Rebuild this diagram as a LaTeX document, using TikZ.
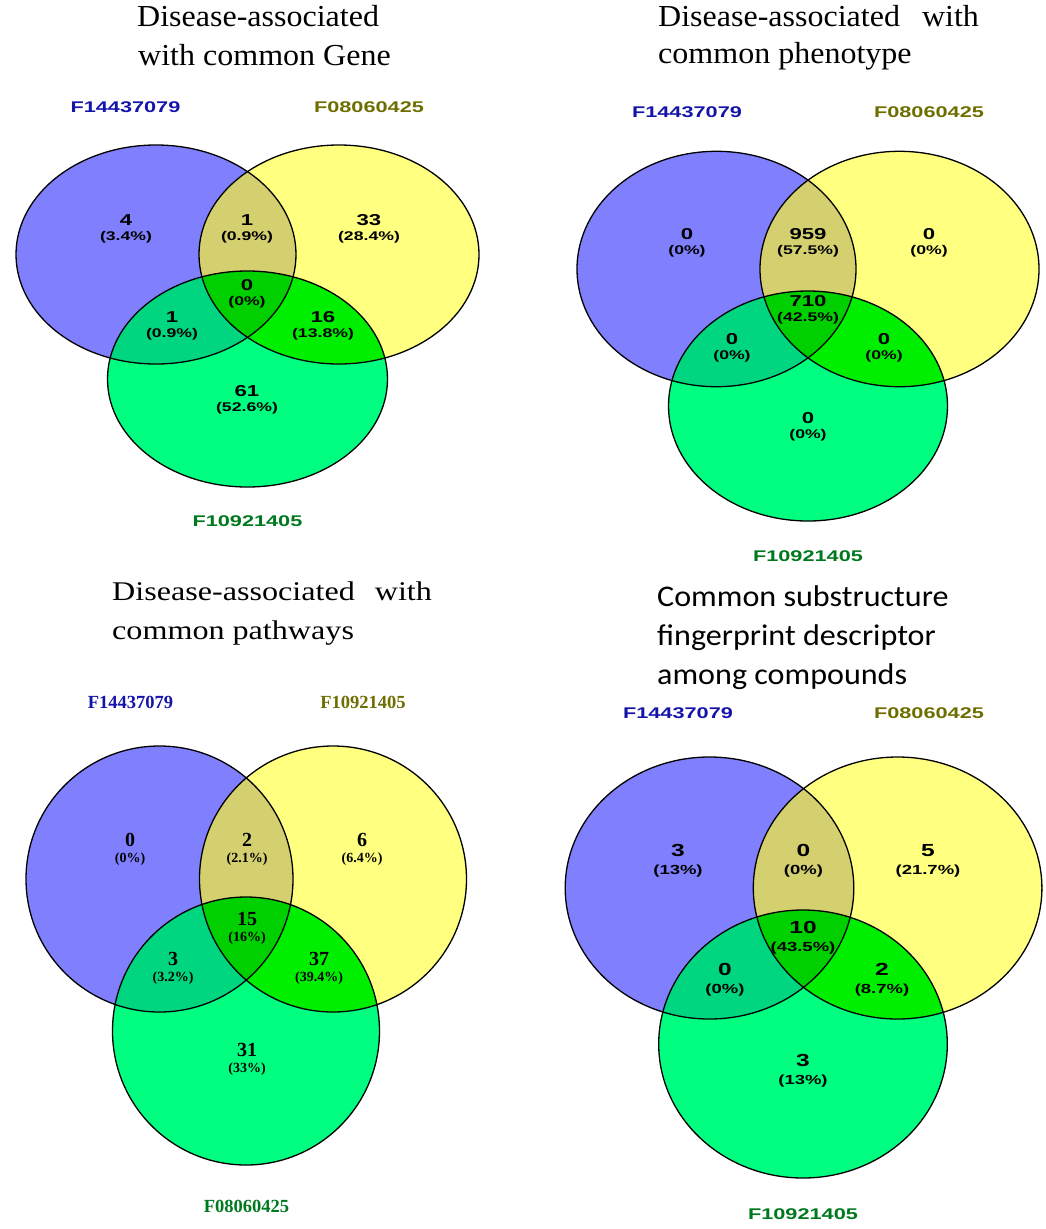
\documentclass[tikz,border=0pt]{standalone}
\usepackage{fontspec}
\setmainfont{Liberation Serif}
\newfontfamily\titlefont{Liberation Serif}[FakeStretch=1.05]
\newfontfamily\widetitle{Liberation Serif}[FakeStretch=1.19]
\newfontfamily\notefont{Carlito}[FakeStretch=1.07]
\newfontfamily\vennsans{Liberation Sans}[FakeStretch=1.4]
\newfontfamily\vennserif{Liberation Serif}
\definecolor{setblue}{RGB}{128,128,255}
\definecolor{setyellow}{RGB}{255,255,128}
\definecolor{setgreen}{RGB}{0,255,128}
\definecolor{blueyellow}{RGB}{212,208,112}
\definecolor{bluegreen}{RGB}{0,214,128}
\definecolor{yellowgreen}{RGB}{0,238,0}
\definecolor{allthree}{RGB}{0,208,0}
\definecolor{nameblue}{RGB}{20,20,170}
\definecolor{nameolive}{RGB}{110,110,0}
\definecolor{namegreen}{RGB}{0,120,30}
\begin{document}
\begin{tikzpicture}[x=1pt,y=-1pt,
    ttl/.style={anchor=base west,inner sep=0pt,font={\titlefont\fontsize{30.5}{36}\selectfont}},
    ttlwide/.style={ttl,font={\widetitle\fontsize{27}{32}\selectfont}},
    ttlsans/.style={ttl,font={\notefont\fontsize{30}{36}\selectfont}},
    setname/.style={inner sep=0pt,font={\vennsans\bfseries\fontsize{15.5}{18}\selectfont}},
    setserif/.style={inner sep=0pt,font={\vennserif\bfseries\fontsize{18.5}{20}\selectfont}},
    cnt/.style={align=center,inner sep=0pt,font={\vennsans\bfseries\fontsize{12.6}{15}\selectfont}},
    cntbig/.style={cnt,font={\vennsans\bfseries\fontsize{13.2}{18}\selectfont}},
    cntserif/.style={cnt,font={\vennserif\bfseries\fontsize{14}{16}\selectfont}}]
    \useasboundingbox (0,0) rectangle (1045,1229);
    % the four three-set diagrams
    \foreach \bx/\by/\yx/\gx/\gy/\rx/\ry/\gry in {156/254.5/339/247.5/379/140/109.5/108,
        716.5/269/899.5/808/406/139.5/117.7/115,
        159.5/879/333/246/1031/133.5/133/134,
        709.5/888/897.6/803/1044/144.3/131/134}
    {
        \fill[setblue] (\bx,\by) ellipse [x radius=\rx,y radius=\ry];
        \fill[setyellow] (\yx,\by) ellipse [x radius=\rx,y radius=\ry];
        \fill[setgreen] (\gx,\gy) ellipse [x radius=\rx,y radius=\gry];
        \begin{scope}
            \clip (\bx,\by) ellipse [x radius=\rx,y radius=\ry];
            \fill[blueyellow] (\yx,\by) ellipse [x radius=\rx,y radius=\ry];
            \fill[bluegreen] (\gx,\gy) ellipse [x radius=\rx,y radius=\gry];
        \end{scope}
        \begin{scope}
            \clip (\yx,\by) ellipse [x radius=\rx,y radius=\ry];
            \fill[yellowgreen] (\gx,\gy) ellipse [x radius=\rx,y radius=\gry];
            \clip (\bx,\by) ellipse [x radius=\rx,y radius=\ry];
            \fill[allthree] (\gx,\gy) ellipse [x radius=\rx,y radius=\gry];
        \end{scope}
        \draw[line width=1.3pt] (\bx,\by) ellipse [x radius=\rx,y radius=\ry];
        \draw[line width=1.3pt] (\yx,\by) ellipse [x radius=\rx,y radius=\ry];
        \draw[line width=1.3pt] (\gx,\gy) ellipse [x radius=\rx,y radius=\gry];
    }
    % top left
    \node[ttl] (t1a) at (137,26.8) {Disease-associated};
    \node[ttl] (t1b) at (138,65) {with common Gene};
    \node[setname,nameblue] (s1a) at (125.5,107) {F14437079};
    \node[setname,nameolive] (s1b) at (369,107) {F08060425};
    \node[setname,namegreen] (s1c) at (247.5,521) {F10921405};
    \foreach \x/\y/\n/\p [count=\i] in {126/228.5/4/3.4,247/228.5/1/0.9,369/228.5/33/28.4,
        247/293.5/0/0,172/326/1/0.9,323/326/16/13.8,247/400/61/52.6}
        \node[cnt] (a\i) at (\x,\y) {{\fontsize{15.8}{15}\selectfont\n}\\(\p\%)};
    % top right
    \node[ttl] (t2a) at (658,26.8) {Disease-associated\hspace{22pt}with};
    \node[ttl] (t2b) at (658,63) {common phenotype};
    \node[setname,nameblue] (s2a) at (687,112) {F14437079};
    \node[setname,nameolive] (s2b) at (929,112) {F08060425};
    \node[setname,namegreen] (s2c) at (808,556) {F10921405};
    \foreach \x/\y/\n/\p [count=\i] in {687/242.5/0/0,808/242.5/959/57.5,929/242.5/0/0,
        808/310/710/42.5,732/347.5/0/0,884/347.5/0/0,808/426.5/0/0}
        \node[cnt] (b\i) at (\x,\y) {{\fontsize{15.8}{15}\selectfont\n}\\(\p\%)};
    % bottom left
    \node[ttlwide] (t3a) at (112,600.5) {Disease-associated\hspace{20pt}with};
    \node[ttlwide] (t3b) at (112,639) {common pathways};
    \node[setserif,nameblue] (s3a) at (130.5,702) {F14437079};
    \node[setserif,nameolive] (s3b) at (363,702) {F10921405};
    \node[setserif,namegreen] (s3c) at (246.5,1206) {F08060425};
    \foreach \x/\y/\n/\p [count=\i] in {130/849.5/0/0,247/849.5/2/2.1,362/849.5/6/6.4,
        247/928/15/16,173/968.5/3/3.2,319/968.5/37/39.4,247/1059/31/33}
        \node[cntserif] (c\i) at (\x,\y) {{\fontsize{20}{16}\selectfont\n}\\(\p\%)};
    % bottom right
    \node[ttlsans] (t4a) at (657,606) {Common substructure};
    \node[ttlsans] (t4b) at (657,645) {fingerprint descriptor};
    \node[ttlsans] (t4c) at (657,684) {among compounds};
    \node[setname,nameblue] (s4a) at (678,712.7) {F14437079};
    \node[setname,nameolive] (s4b) at (929,712.7) {F08060425};
    \node[setname,namegreen] (s4c) at (803,1214) {F10921405};
    \foreach \x/\y/\n/\p [count=\i] in {678/860.5/3/13,803.5/860.5/0/0,928/860.5/5/21.7,
        803/938/10/43.5,725/979.5/0/0,882/979.5/2/8.7,803/1070.5/3/13}
        \node[cntbig] (d\i) at (\x,\y) {{\fontsize{17.5}{18}\selectfont\n}\\(\p\%)};
\end{tikzpicture}
\end{document}
